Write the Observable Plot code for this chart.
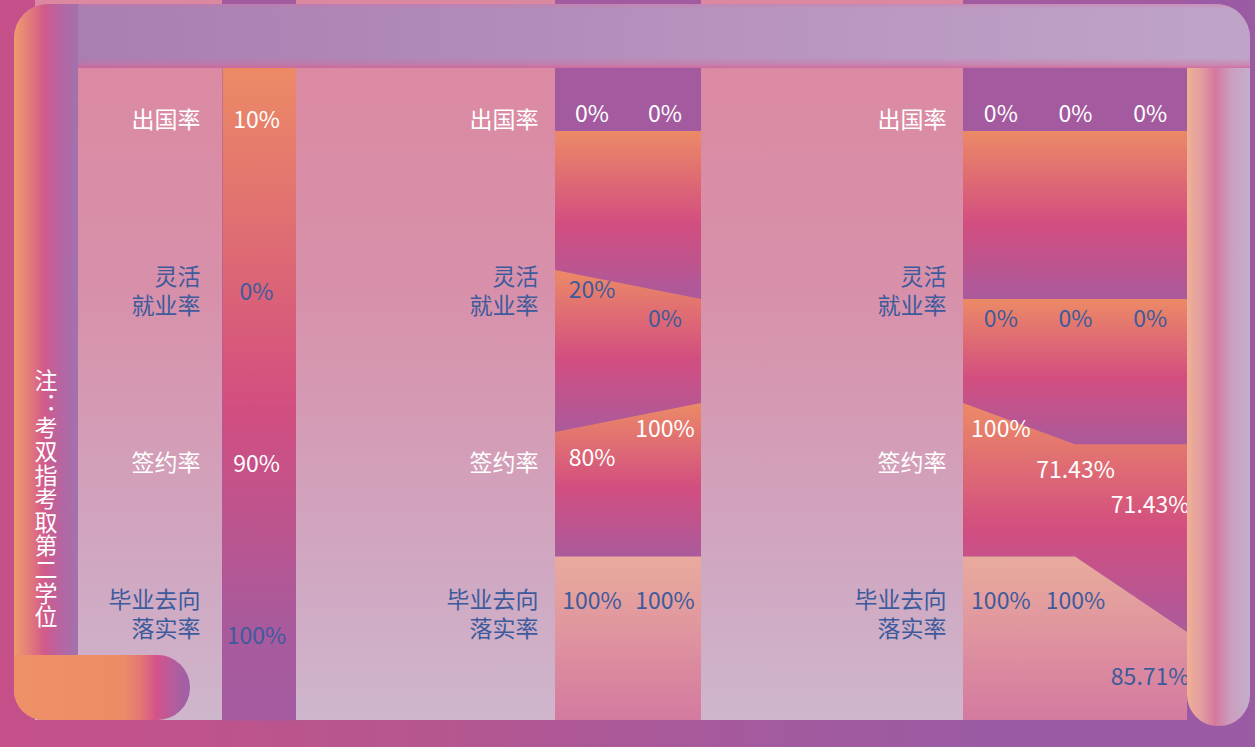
<!DOCTYPE html>
<html>
<head>
<meta charset="utf-8">
<script src="https://cdn.jsdelivr.net/npm/d3@7"></script>
<script src="https://cdn.jsdelivr.net/npm/@observablehq/plot@0.6"></script>
<style>
  html, body { margin: 0; padding: 0; }
  body { width: 1255px; height: 747px; overflow: hidden; font-family: "Noto Sans CJK SC", "Noto Sans", sans-serif; }
  #stage { position: relative; width: 1255px; height: 747px; overflow: hidden;
    background: linear-gradient(90deg, #c5508a 0%, #b5568f 35%, #a45a9e 60%, #9a5ba4 80%, #9a5aa4 100%); }
  .panel { position: absolute; top: 0; height: 720px; }
  .panel .lab { position: absolute; left: 0; top: 0; height: 720px;
    background: linear-gradient(180deg, #dc88a0 0%, #d890aa 40%, #d0a8c2 80%, #ceb6cc 100%); }
  .panel .dat { position: absolute; top: 0; height: 720px; background: #a25aa0; }
  .panel svg { position: absolute; left: 0; top: 0; }
  .deco { position: absolute; }
  #rightbar { left: 1187px; top: 4px; width: 63px; height: 722px; border-radius: 0 34px 31px 31px;
    background: linear-gradient(90deg, #efb094 0%, #e39ea0 22%, #d4789f 45%, #cc9cbc 68%, #c3b0cc 100%); }
  #topbar { left: 14px; top: 4px; width: 1236px; height: 64px; border-radius: 34px 34px 0 0;
    background:
      linear-gradient(180deg, rgba(214,112,160,.35) 0px, rgba(255,255,255,0) 5px, rgba(255,255,255,0) 54px, rgba(216,104,152,.45) 61px, rgba(214,96,148,.8) 64px),
      linear-gradient(90deg, #a87cb0 0%, #b08ab8 35%, #b894bf 60%, #c0a4c8 100%); }
  #leftbar { left: 14px; top: 4px; width: 64px; height: 716px; border-radius: 34px 0 0 30px;
    background: linear-gradient(90deg, #ef9c6c 0%, #e27a7c 25%, #d25a8a 47%, #b864a0 70%, #a272ae 100%); }
  #pill { left: 14px; top: 655px; width: 176px; height: 65px; border-radius: 0 33px 33px 30px;
    background: linear-gradient(90deg, #ee9068 0%, #ec8c66 62%, #e47676 72%, #d4528a 81%, #b25e9e 91%, #9c60a6 100%); }
  #note { left: 33px; top: 369px; writing-mode: vertical-rl; text-orientation: upright;
    color: #ffffff; font-size: 23px; line-height: 25px; letter-spacing: 0.6px; }
</style>
</head>
<body>
<div id="stage"></div>
<script>
// Row categories (line breaks as they are set in the labels)
const rowNames = ["出国率", "灵活\n就业率", "签约率", "毕业去向\n落实率"];

// Rates (%) per row; each inner list runs over the columns of a group
const groupA = [10, 0, 90, 100];
const groupB = [[0, 0], [20, 0], [80, 100], [100, 100]];
const groupC = [[0, 0, 0], [0, 0, 0], [100, 71.43, 71.43], [100, 100, 85.71]];

const noteText = "注：考双指考取第二学位";

// ---- styling ----
const FONT = '"Noto Sans CJK SC", "Noto Sans", sans-serif';
const LIGHT = "#ffffff";
const DARK = "#3d5b9c";
const rowInk = [LIGHT, DARK, LIGHT, DARK];
const CAP = "#a35a9f";
const VALUE_SIZE = 23;
const NAME_SIZE = 23;
const HEIGHT = 720, TOP = 32;
const UNIT = (HEIGHT - TOP) / 4; // pixels per row

// Shape of each row's boundary line, in row units: where a 0% value sits,
// and how far the line rises per 100 percentage points; plus label nudges.
const ROW_SHAPE = [
  {zero: 0.576, slope: 0.84, valueDy: -17, labelDy: 1},
  {zero: 0.552, slope: 0.84, valueDy: 20, labelDy: 0},
  {zero: 0.997, slope: 0.84, valueDy: 26, labelDy: 0},
  {zero: 3.12, slope: 3.07, valueDy: 45, labelDy: -21}
];
const lineY = (k, v) => k + ROW_SHAPE[k].zero - ROW_SHAPE[k].slope * v / 100;

const panels = [
  {id: "a", values: groupA.map(v => [v]), left: 35, labelWidth: 187, dataWidth: 74, gap: 22},
  {id: "b", values: groupB, left: 296, labelWidth: 259, dataWidth: 146, gap: 17},
  {id: "c", values: groupC, left: 701, labelWidth: 262, dataWidth: 224, gap: 17}
];

const NS = "http://www.w3.org/2000/svg";
function addGradient(svg, id, stops, attrs = {}) {
  let defs = svg.querySelector("defs");
  if (!defs) { defs = document.createElementNS(NS, "defs"); svg.insertBefore(defs, svg.firstChild); }
  const g = document.createElementNS(NS, "linearGradient");
  g.setAttribute("id", id);
  const base = {x1: "0", y1: "0", x2: "0", y2: "1", ...attrs};
  for (const [k, v] of Object.entries(base)) g.setAttribute(k, v);
  for (const [o, c] of stops) {
    const s = document.createElementNS(NS, "stop");
    s.setAttribute("offset", o);
    s.setAttribute("stop-color", c);
    g.appendChild(s);
  }
  defs.appendChild(g);
}

// Value labels of one row: sit by the boundary line, and step down
// when a label would run into its left neighbour.
function rowLabels(vals, k, colWidth) {
  const out = [];
  vals.forEach((v, i) => {
    const text = `${v}%`;
    const w = text.length * VALUE_SIZE * 0.6;
    let y = lineY(k, v);
    const prev = out[i - 1];
    if (prev && colWidth < (w + prev.w) / 2 && Math.abs(y - prev.y) * UNIT < VALUE_SIZE) {
      y = prev.y + 1.5 * VALUE_SIZE / UNIT;
    }
    out.push({i, text, w, y});
  });
  return out;
}

const stage = document.getElementById("stage");

for (const p of panels) {
  const n = p.values[0].length;
  const cols = d3.range(n);
  const vertexX = i => (n > 1 ? i * n / (n - 1) : 0.5);
  const marks = [];

  if (n === 1) {
    // a single column: one continuous coloured strip
    marks.push(Plot.frame({fill: `url(#col-${p.id})`, stroke: "none"}));
    p.values.forEach((vals, k) => {
      marks.push(Plot.text(cols, {
        x: i => i + 0.5, y: () => k + 0.5, text: i => `${vals[i]}%`,
        fill: rowInk[k], fontSize: VALUE_SIZE, dx: -3, dy: 2
      }));
    });
  } else {
    // band above the first boundary
    marks.push(Plot.areaY(cols, {x: vertexX, y1: 0, y2: i => lineY(0, p.values[0][i]), fill: CAP}));
    // one band per row, from its boundary down to the next one
    for (let k = 0; k < 4; k++) {
      marks.push(Plot.areaY(cols, {
        x: vertexX,
        y1: i => lineY(k, p.values[k][i]),
        y2: i => (k < 3 ? lineY(k + 1, p.values[k + 1][i]) : 4),
        fill: k < 3 ? `url(#band-${p.id})` : `url(#last-${p.id})`
      }));
    }
    p.values.forEach((vals, k) => {
      marks.push(Plot.text(rowLabels(vals, k, p.dataWidth / n), {
        x: d => d.i + 0.5, y: "y", text: "text",
        fill: rowInk[k], fontSize: VALUE_SIZE, dy: ROW_SHAPE[k].valueDy
      }));
    });
  }

  // row names in the left column
  rowNames.forEach((name, k) => {
    marks.push(Plot.text([name], {
      frameAnchor: "left", y: () => k + 0.5, text: d => d,
      textAnchor: "end", dx: -p.gap, dy: ROW_SHAPE[k].labelDy,
      fill: rowInk[k], fontSize: NAME_SIZE, lineHeight: 1.22
    }));
  });

  const svg = Plot.plot({
    width: p.labelWidth + p.dataWidth,
    height: HEIGHT,
    marginTop: TOP, marginBottom: 0, marginLeft: p.labelWidth, marginRight: 0,
    x: {domain: [0, n], axis: null},
    y: {domain: [0, 4], reverse: true, axis: null},
    style: {background: "transparent", fontFamily: FONT, overflow: "visible"},
    marks
  });

  addGradient(svg, `band-${p.id}`, [[0, "#ec8a66"], [0.55, "#d24e80"], [1, "#ab5a9c"]]);
  addGradient(svg, `last-${p.id}`, [[0, "#e9ab9d"], [1, "#d47aa0"]]);
  addGradient(svg, `col-${p.id}`, [[0, "#ec8a66"], [0.52, "#d24e80"], [0.86, "#a85a9c"], [1, "#a35a9f"]],
    {gradientUnits: "userSpaceOnUse", x1: "0", y1: "68", x2: "0", y2: "720"});

  const box = document.createElement("div");
  box.className = "panel";
  box.style.left = p.left + "px";
  box.style.width = (p.labelWidth + p.dataWidth) + "px";
  const lab = document.createElement("div");
  lab.className = "lab";
  lab.style.width = p.labelWidth + "px";
  const dat = document.createElement("div");
  dat.className = "dat";
  dat.style.left = p.labelWidth + "px";
  dat.style.width = p.dataWidth + "px";
  box.append(lab, dat, svg);
  stage.appendChild(box);
}

// surrounding frame
for (const id of ["rightbar", "topbar", "leftbar", "pill"]) {
  const d = document.createElement("div");
  d.className = "deco";
  d.id = id;
  stage.appendChild(d);
}
const note = document.createElement("div");
note.className = "deco";
note.id = "note";
note.textContent = noteText;
stage.appendChild(note);
</script>
</body>
</html>
